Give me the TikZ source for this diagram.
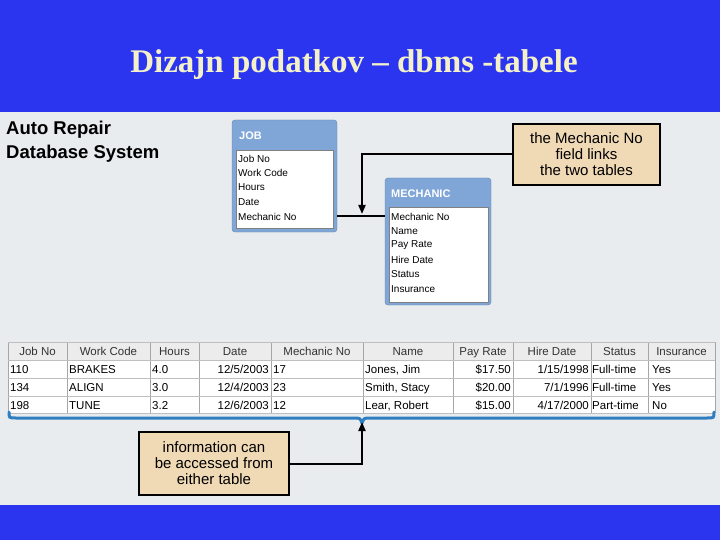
\documentclass[tikz,border=0pt]{standalone}
\usepackage{fontspec}
\setmainfont{Liberation Sans}
\newfontfamily\titlefont{Liberation Serif}
\usetikzlibrary{arrows.meta}
\definecolor{bgblue}{HTML}{2B35F0}
\definecolor{panel}{HTML}{E8ECEF}
\definecolor{tan}{HTML}{F0D9B5}
\definecolor{hdr}{HTML}{7FA6D6}
\definecolor{tblue}{HTML}{2F7FC0}
\definecolor{titlec}{HTML}{F4F0C8}
\tikzset{
 callout/.style={draw=black,line width=2pt,fill=tan,align=center,font=\fontsize{15}{16}\selectfont,inner sep=2pt},
 tbox/.style={draw=hdr!80!black,fill=hdr,rounded corners=3pt},
 inlist/.style={draw=gray,fill=white},
 fld/.style={anchor=west,font=\fontsize{10}{11}\selectfont,inner sep=0pt},
 hd/.style={anchor=west,font=\bfseries\fontsize{11}{12}\selectfont,text=white,inner sep=0pt},
 cell/.style={font=\fontsize{11.5}{12}\selectfont,inner sep=1pt},
 conn/.style={line width=2pt,-{Triangle[length=9pt,width=7pt]}}
}
\begin{document}
\begin{tikzpicture}[x=1pt,y=-1pt]
\useasboundingbox (0,0) rectangle (720,540);
\fill[bgblue] (0,0) rectangle (720,540);
\fill[panel] (0,112) rectangle (720,505);
\node[text=titlec,font=\titlefont\bfseries\fontsize{33}{35}\selectfont] (title) at (354,65) {Dizajn podatkov – dbms -tabele};
\node[anchor=west,font=\bfseries\fontsize{18.5}{20}\selectfont,align=left,inner sep=0pt] (sys) at (6,142) {Auto Repair\\[4pt]Database System};
% JOB
\draw[tbox] (232,120) rectangle (337,232);
\node[hd] (jobh) at (239,136) {JOB};
\draw[inlist] (236,150) rectangle (333,228);
\foreach \t [count=\i] in {Job No,Work Code,Hours,Date,Mechanic No}
  \node[fld] (j\i) at (238,144+14.5*\i) {\t};
\coordinate (jobr) at (337,216);
% MECHANIC
\draw[tbox] (385,178) rectangle (491,305);
\node[hd] (mech) at (391,194) {MECHANIC};
\draw[inlist] (389,207) rectangle (488,302);
\foreach \t [count=\i] in {Mechanic No,Name,Pay Rate,Hire Date,Status,Insurance}
  \node[fld] (m\i) at (391,202+14.5*\i) {\t};
\coordinate (mechl) at (385,216);
\draw[line width=1.3pt] (jobr) -- (mechl);
\coordinate (mid) at (362,214);
\node[callout,minimum width=147pt,minimum height=61pt] (c1) at (586.5,154.5) {the Mechanic No\\field links\\the two tables};
\draw[conn] (c1.west) -| (mid);
% table
\fill[white] (8,342) rectangle (715,413);
\fill[gray!15] (8,342) rectangle (715,360);
\foreach \x in {8,67,150,199,271,363,453,513,591,648,715}
  \draw[gray!70] (\x,342) -- (\x,413);
\foreach \y in {342,360,378,396,413}
  \draw[gray!50] (8,\y) -- (715,\y);
\foreach \t/\x [count=\i] in {Job No/37.5,Work Code/108.5,Hours/174.5,Date/235,Mechanic No/317,Name/408,Pay Rate/483,Hire Date/552,Status/619.5,Insurance/681.5}
  \node[cell,text=gray!40!black,anchor=base] (h\i) at (\x,355) {\t};
\foreach \y/\a/\b/\c/\d/\e/\f/\g/\h/\s [count=\r] in {
  373/110/BRAKES/4.0/12\slash 5\slash 2003/17/{Jones, Jim}/\$17.50/1\slash 15\slash 1998/Full-time,
  391/134/ALIGN/3.0/12\slash 4\slash 2003/23/{Smith, Stacy}/\$20.00/7\slash 1\slash 1996/Full-time,
  409/198/TUNE/3.2/12\slash 6\slash 2003/12/{Lear, Robert}/\$15.00/4\slash 17\slash 2000/Part-time}{
  \node[cell,anchor=base west] (ra\r) at (9,\y) {\a};
  \node[cell,anchor=base west] (rb\r) at (68,\y) {\b};
  \node[cell,anchor=base west] (rc\r) at (151,\y) {\c};
  \node[cell,anchor=base east] (rd\r) at (270,\y) {\d};
  \node[cell,anchor=base west] (re\r) at (272,\y) {\e};
  \node[cell,anchor=base west] (rf\r) at (364,\y) {\f};
  \node[cell,anchor=base east] (rg\r) at (512,\y) {\g};
  \node[cell,anchor=base east] (rh\r) at (590,\y) {\h};
  \node[cell,anchor=base west] (ri\r) at (591,\y) {\s};
}
\foreach \n/\y [count=\r] in {Yes/373,Yes/391,No/409}
  \node[cell,anchor=base west] (rj\r) at (651,\y) {\n};
% brace
\draw[tblue,line width=3pt,line cap=round] (9,412) .. controls (9,418) .. (16,418) -- (354,418) .. controls (360,418) .. (362,423) .. controls (364,418) .. (370,418) -- (707,418) .. controls (714,418) .. (714,412);
\coordinate (bpt) at (362,422);
\node[callout,minimum width=150pt,minimum height=63pt] (c2) at (214,463.5) {information can\\be accessed from\\either table};
\draw[conn] (c2.east) -| (bpt);
\end{tikzpicture}
\end{document}
